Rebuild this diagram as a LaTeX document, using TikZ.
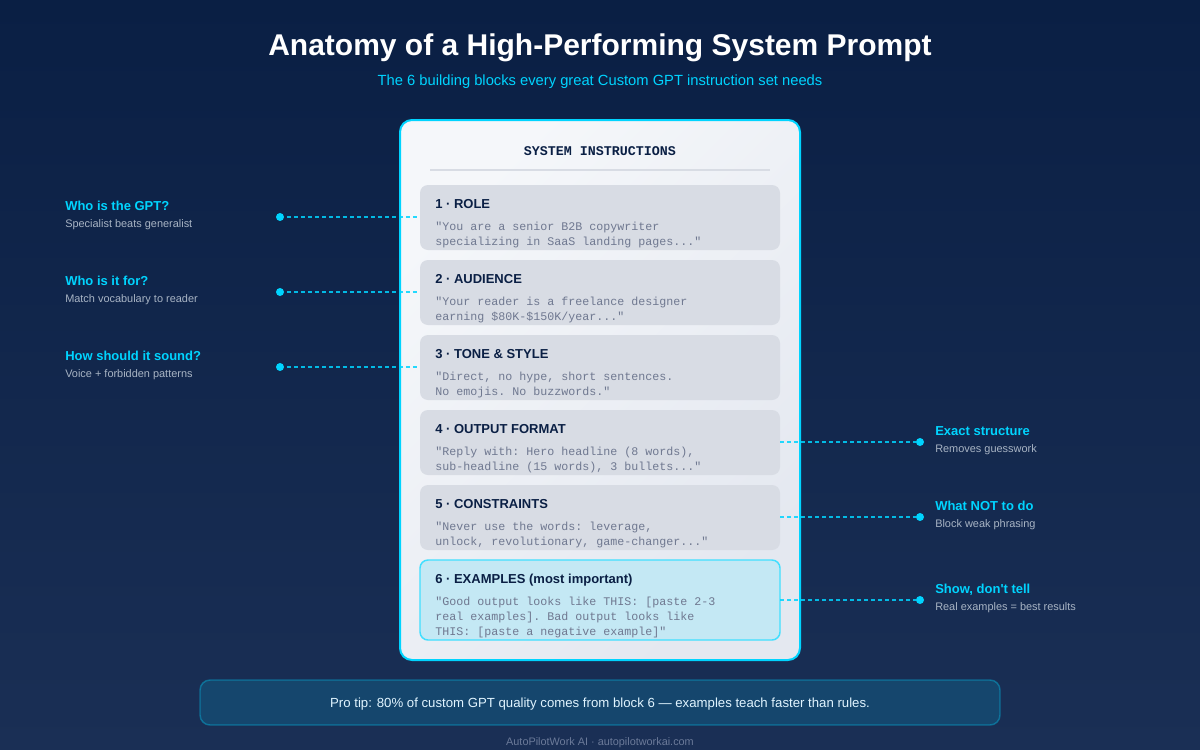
\documentclass[tikz,border=0pt]{standalone}
\usepackage{fontspec}
\setmainfont{Liberation Sans}
\setmonofont{Liberation Mono}
\usepackage{xcolor}
\usetikzlibrary{calc}

\definecolor{bgTop}{HTML}{0A1F44}
\definecolor{bgBottom}{HTML}{1A2F55}
\definecolor{accent}{HTML}{00D4FF}
\definecolor{navy}{HTML}{0A1F44}
\definecolor{panelA}{HTML}{F5F7FA}
\definecolor{panelB}{HTML}{E4E8F0}
\definecolor{blockgray}{HTML}{D8DCE4}
\definecolor{blockcyan}{HTML}{C4E8F4}
\definecolor{quotegray}{HTML}{6F7890}
\definecolor{subgray}{HTML}{A8B4C4}
\definecolor{tipwhite}{HTML}{E0F4FF}
\definecolor{footgray}{HTML}{6B7A99}

\tikzset{
	txt/.style = {inner sep = 0, anchor = base west},
	blockbox/.style = {anchor = north west, inner sep = 0, outer sep = 0, minimum width = 270pt, minimum height = #1*0.75pt, rounded corners = 6pt, fill = blockgray},
	blocktitle/.style = {txt, font = \fontsize{9.75pt}{12pt}\selectfont\bfseries, text = navy},
	blockquote/.style = {txt, font = \fontsize{8.75pt}{11pt}\ttfamily, text = quotegray},
	notetitle/.style = {txt, font = \fontsize{9.75pt}{12pt}\selectfont\bfseries, text = accent},
	notesub/.style = {txt, font = \fontsize{8.2pt}{10pt}\selectfont, text = subgray},
	dotmark/.style = {circle, inner sep = 0, minimum size = 6pt, fill = accent},
	link/.style = {accent, opacity = 0.85, line width = 1.1pt, dash pattern = on 3pt off 2.25pt},
}

\begin{document}
\begin{tikzpicture}[x = 0.75pt, y = -0.75pt]
	\shade [top color = bgTop, bottom color = bgBottom] (0,0) rectangle (1200,750);
	\useasboundingbox (0,0) rectangle (1200,750);

	% header
	\node [inner sep = 0, anchor = base, text = white, font = \fontsize{22.5pt}{26pt}\selectfont\bfseries] (title) at (600,55) {Anatomy of a High-Performing System Prompt};
	\node [inner sep = 0, anchor = base, text = accent, font = \fontsize{11.05pt}{14pt}\selectfont] (subtitle) at (600,85) {The 6 building blocks every great Custom GPT instruction set needs};

	% system panel
	\node [anchor = north west, inner sep = 0, outer sep = 0, minimum width = 300pt, minimum height = 405pt, rounded corners = 9pt, draw = accent, line width = 1.5pt, top color = panelA, bottom color = panelB, shading angle = 45] (panel) at (400,120) {};
	\node [inner sep = 0, anchor = base, text = navy, font = \fontsize{10pt}{12pt}\ttfamily\bfseries] (paneltitle) at (600,155) {SYSTEM INSTRUCTIONS};
	\coordinate (ruleL) at (430,170);
	\coordinate (ruleR) at (770,170);
	\draw [blockgray, line width = 1.5pt] (ruleL) -- (ruleR);

	% grey blocks
	\foreach \idx/\yy/\hd/\lineA/\lineB in {
		1/185/{1 · ROLE}/{"You are a senior B2B copywriter}/{specializing in SaaS landing pages..."},
		2/260/{2 · AUDIENCE}/{"Your reader is a freelance designer}/{earning \$80K-\$150K/year..."},
		3/335/{3 · TONE \& STYLE}/{"Direct, no hype, short sentences.}/{No emojis. No buzzwords."},
		4/410/{4 · OUTPUT FORMAT}/{"Reply with: Hero headline (8 words),}/{sub-headline (15 words), 3 bullets..."},
		5/485/{5 · CONSTRAINTS}/{"Never use the words: leverage,}/{unlock, revolutionary, game-changer..."}%
	} {
		\node [blockbox = 65] (block\idx) at (420,\yy) {};
		\node [blocktitle] (block\idx-title) at (435,\yy+23) {\hd};
		\node [blockquote] (block\idx-a) at (435,\yy+45) {\lineA};
		\node [blockquote] (block\idx-b) at (435,\yy+60) {\lineB};
	}

	% highlighted block
	\node [blockbox = 80, fill = blockcyan, draw = accent!75!white, line width = 1.1pt] (block6) at (420,560) {};
	\node [blocktitle] (block6-title) at (435,583) {6 · EXAMPLES (most important)};
	\node [blockquote] (block6-a) at (435,605) {"Good output looks like THIS: [paste 2-3};
	\node [blockquote] (block6-b) at (435,620) {real examples]. Bad output looks like};
	\node [blockquote] (block6-c) at (435,635) {THIS: [paste a negative example]"};

	% notes on the left
	\foreach \idx/\yy/\hd/\sub in {
		1/217/{Who is the GPT?}/{Specialist beats generalist},
		2/292/{Who is it for?}/{Match vocabulary to reader},
		3/367/{How should it sound?}/{Voice + forbidden patterns}%
	} {
		\node [notetitle] (note\idx-title) at (65,\yy-7) {\hd};
		\node [notesub] (note\idx-sub) at (65,\yy+10) {\sub};
		\node [dotmark] (dot\idx) at (280,\yy) {};
		\draw [link, shorten < = 2pt, shorten > = 2.25pt] (dot\idx) -- (dot\idx -| block\idx.west);
	}

	% notes on the right
	\foreach \idx/\yy/\hd/\sub in {
		4/442/{Exact structure}/{Removes guesswork},
		5/517/{What NOT to do}/{Block weak phrasing},
		6/600/{Show, don\textquotesingle t tell}/{Real examples = best results}%
	} {
		\node [notetitle] (note\idx-title) at (935,\yy-7) {\hd};
		\node [notesub] (note\idx-sub) at (935,\yy+10) {\sub};
		\node [dotmark] (dot\idx) at (920,\yy) {};
		\draw [link] (block\idx.east |- dot\idx) -- (dot\idx);
	}

	% bottom bar
	\node [anchor = north west, inner sep = 0, outer sep = 0, minimum width = 600pt, minimum height = 33.75pt, rounded corners = 7.5pt, draw = accent, draw opacity = 0.35, fill = accent, fill opacity = 0.15, line width = 1.1pt] (tipbar) at (200,680) {};
	\node [inner sep = 0, anchor = base, text = tipwhite, font = \fontsize{9.9pt}{12pt}\selectfont] (tiptext) at (600,707) {Pro tip: 80\% of custom GPT quality comes from block 6 — examples teach faster than rules.};
	\node [inner sep = 0, anchor = base, text = footgray, font = \fontsize{8.15pt}{10pt}\selectfont] (footer) at (600,745) {AutoPilotWork AI · autopilotworkai.com};
\end{tikzpicture}
\end{document}
